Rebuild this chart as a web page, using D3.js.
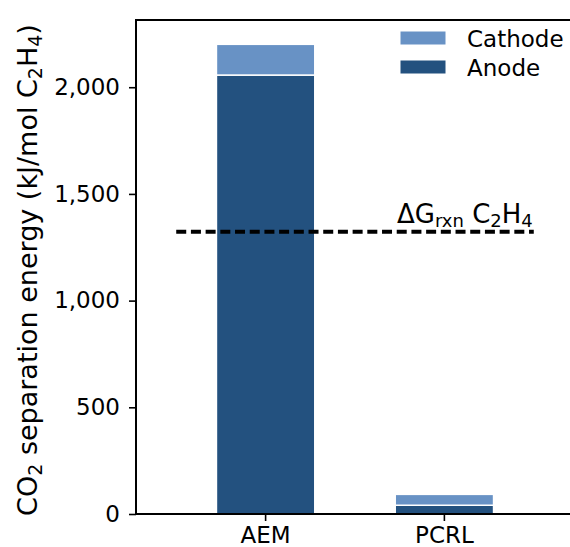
<!DOCTYPE html>
<html>
<head>
<meta charset="utf-8">
<script src="https://cdn.jsdelivr.net/npm/d3@7"></script>
<style>
  body { margin: 0; background: #fff; }
  svg { display: block; font-family: "DejaVu Sans", Verdana, sans-serif; }
</style>
</head>
<body>
<div id="chart"></div>
<script>
/* DATA */
const categories = ["AEM", "PCRL"];
const anode = [2057, 41];
const cathode = [144, 51];
const yTicks = [0, 500, 1000, 1500, 2000];
const yMax = 2315;
const dgRxn = 1323;          // ΔGrxn C2H4 (kJ/mol)
const dgSpan = [-0.5, 1.5];  // x extent of the dashed line, in category index units

/* LAYOUT */
const width = 570, height = 547;
const margin = { top: 20, bottom: 33, left: 136, right: -4 };
const colors = { cathode: "#6892c5", anode: "#23517f" };

const svg = d3.select("#chart").append("svg")
  .attr("width", width)
  .attr("height", height);

// + SCALES
const x = d3.scaleBand()
  .domain(categories)
  .range([margin.left, width - margin.right])
  .padding(0.45);

// index position -> px (centre of band)
const xIdx = i => x(categories[0]) + x.bandwidth() / 2 + i * x.step();

const y = d3.scaleLinear()
  .domain([0, yMax])
  .range([height - margin.bottom, margin.top]);

// + BARS (anode first, cathode stacked on top)
const stacked = categories.map((c, i) => ({ cat: c, anode: anode[i], cathode: cathode[i] }));

svg.append("g").selectAll("rect.anode")
  .data(stacked)
  .join("rect")
  .attr("class", "anode")
  .attr("x", d => x(d.cat))
  .attr("width", x.bandwidth())
  .attr("y", d => y(d.anode))
  .attr("height", d => y(0) - y(d.anode))
  .attr("fill", colors.anode)
  .attr("stroke", "#fff")
  .attr("stroke-width", 1.5);

svg.append("g").selectAll("rect.cathode")
  .data(stacked)
  .join("rect")
  .attr("class", "cathode")
  .attr("x", d => x(d.cat))
  .attr("width", x.bandwidth())
  .attr("y", d => y(d.anode + d.cathode))
  .attr("height", d => y(d.anode) - y(d.anode + d.cathode))
  .attr("fill", colors.cathode)
  .attr("stroke", "#fff")
  .attr("stroke-width", 1.5);

// + DASHED LINE
svg.append("line")
  .attr("x1", xIdx(dgSpan[0]))
  .attr("x2", xIdx(dgSpan[1]))
  .attr("y1", y(dgRxn))
  .attr("y2", y(dgRxn))
  .attr("stroke", "#000")
  .attr("stroke-width", 4)
  .attr("stroke-dasharray", "10,4.7");

const dgLabel = svg.append("text")
  .attr("x", 397)
  .attr("y", y(dgRxn) - 9)
  .attr("font-size", 26)
  .attr("fill", "#000");
dgLabel.append("tspan").text("ΔG");
dgLabel.append("tspan").attr("font-size", 18).attr("dy", 4).text("rxn");
dgLabel.append("tspan").attr("dy", -4).text(" C");
dgLabel.append("tspan").attr("font-size", 18).attr("dy", 4).text("2");
dgLabel.append("tspan").attr("dy", -4).text("H");
dgLabel.append("tspan").attr("font-size", 18).attr("dy", 4).text("4");

// + AXES
const yAxis = d3.axisLeft(y)
  .tickValues(yTicks)
  .tickFormat(d3.format(","))
  .tickSize(7)
  .tickPadding(9);

const xAxis = d3.axisBottom(x)
  .tickSize(7)
  .tickPadding(6);

svg.append("g")
  .attr("class", "axis y-axis")
  .attr("transform", `translate(${margin.left},0)`)
  .call(yAxis)
  .call(g => g.select(".domain").remove());

svg.append("g")
  .attr("class", "axis x-axis")
  .attr("transform", `translate(0,${height - margin.bottom})`)
  .call(xAxis)
  .call(g => g.select(".domain").remove());

svg.selectAll(".axis text")
  .attr("font-size", 23)
  .attr("font-family", "DejaVu Sans, Verdana, sans-serif")
  .attr("fill", "#000");
svg.selectAll(".axis line")
  .attr("stroke", "#000")
  .attr("stroke-width", 1.6);

// spines: left, bottom, top
svg.append("path")
  .attr("d", `M${width},${margin.top}H${margin.left}V${height - margin.bottom}H${width}`)
  .attr("fill", "none")
  .attr("stroke", "#000")
  .attr("stroke-width", 2);

// + Y LABEL
const yLabel = svg.append("text")
  .attr("transform", `translate(37,${(margin.top + height - margin.bottom) / 2 + 3}) rotate(-90)`)
  .attr("text-anchor", "middle")
  .attr("font-size", 27)
  .attr("fill", "#000");
yLabel.append("tspan").text("CO");
yLabel.append("tspan").attr("font-size", 19).attr("dy", 5).text("2");
yLabel.append("tspan").attr("dy", -5).text(" separation energy (kJ/mol C");
yLabel.append("tspan").attr("font-size", 19).attr("dy", 5).text("2");
yLabel.append("tspan").attr("dy", -5).text("H");
yLabel.append("tspan").attr("font-size", 19).attr("dy", 5).text("4");
yLabel.append("tspan").attr("dy", -5).text(")");

// + LEGEND
const legendItems = [
  { label: "Cathode", color: colors.cathode },
  { label: "Anode", color: colors.anode }
];
const legend = svg.append("g").attr("transform", "translate(400,31)");
legend.selectAll("rect")
  .data(legendItems)
  .join("rect")
  .attr("x", 0)
  .attr("y", (d, i) => i * 29)
  .attr("width", 46)
  .attr("height", 14)
  .attr("fill", d => d.color)
  .attr("stroke", "#fff")
  .attr("stroke-width", 1);
legend.selectAll("text")
  .data(legendItems)
  .join("text")
  .attr("x", 67)
  .attr("y", (d, i) => i * 29 + 16)
  .attr("font-size", 23)
  .attr("fill", "#000")
  .text(d => d.label);
</script>
</body>
</html>
